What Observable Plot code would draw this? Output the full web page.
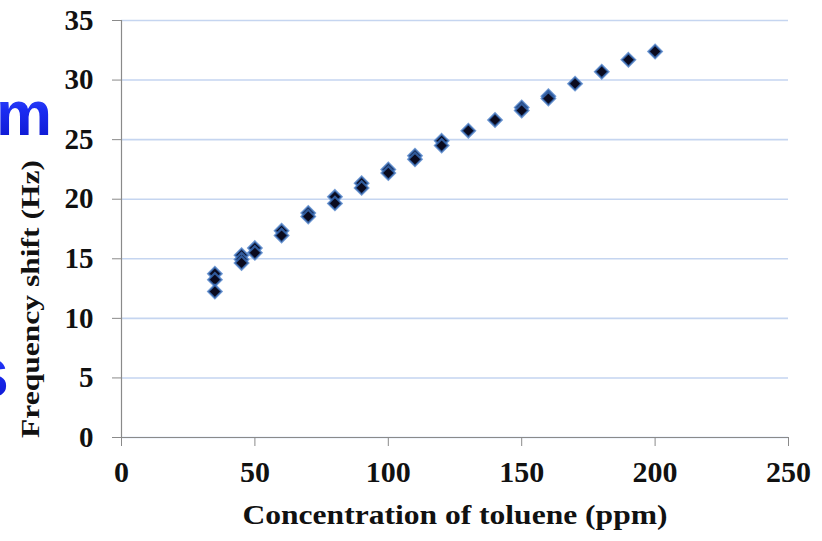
<!DOCTYPE html>
<html>
<head>
<meta charset="utf-8">
<script src="https://cdn.jsdelivr.net/npm/d3@7"></script>
<script src="https://cdn.jsdelivr.net/npm/@observablehq/plot@0.6"></script>
<style>
  html, body { margin: 0; padding: 0; background: #fff; }
  #wrap { position: relative; width: 822px; height: 541px; overflow: hidden; }
  #deco { position: absolute; left: 0; top: 0; }
</style>
</head>
<body>
<div id="wrap">
  <svg id="deco" width="822" height="541">
    <defs>
      <linearGradient id="blueGrad" x1="0" y1="0" x2="0" y2="1">
        <stop offset="0" stop-color="#4a66ff"/>
        <stop offset="0.45" stop-color="#1b2cf2"/>
        <stop offset="1" stop-color="#0b14c8"/>
      </linearGradient>
    </defs>
    <text x="-4" y="135" font-family="'Liberation Sans', Arial, sans-serif" font-weight="bold" font-size="63" fill="url(#blueGrad)">m</text>
    <text x="-31" y="397" font-family="'Liberation Sans', Arial, sans-serif" font-weight="bold" font-size="72" fill="url(#blueGrad)">s</text>
  </svg>
</div>
<script>
const concentration = [35, 35, 35, 45, 45, 45, 50, 50, 60, 60, 70, 70, 80, 80, 90, 90, 100, 100, 110, 110, 120, 120, 130, 140, 150, 150, 160, 160, 170, 180, 190, 200];
const frequencyShift = [13.75, 13.25, 12.25, 15.3, 14.95, 14.65, 15.9, 15.5, 17.35, 16.95, 18.85, 18.55, 20.2, 19.65, 21.35, 20.95, 22.5, 22.2, 23.65, 23.35, 24.9, 24.5, 25.75, 26.65, 27.7, 27.45, 28.65, 28.45, 29.7, 30.7, 31.7, 32.4];
const xTicks = [0, 50, 100, 150, 200, 250];
const yTicks = [0, 5, 10, 15, 20, 25, 30, 35];
const xLabel = "Concentration of toluene (ppm)";
const yLabel = "Frequency shift (Hz)";

const data = concentration.map((c, i) => ({x: c, y: frequencyShift[i]}));
const font = "'Liberation Serif', 'Times New Roman', serif";

const chart = Plot.plot({
  width: 822,
  height: 541,
  marginLeft: 121,
  marginRight: 34,
  marginTop: 20,
  marginBottom: 104,
  style: {fontFamily: font, background: "transparent", overflow: "visible"},
  x: {domain: [0, 250]},
  y: {domain: [0, 35]},
  marks: [
    Plot.gridY(yTicks, {stroke: "#c5d5f0", strokeOpacity: 1, strokeWidth: 1.6}),
    Plot.ruleX([0], {stroke: "#8a8a8a", strokeWidth: 1.2}),
    Plot.ruleY([0], {stroke: "#8a8a8a", strokeWidth: 1.2}),
    Plot.axisY(yTicks, {tickSize: 9, tickPadding: 19, fontSize: 29, fontWeight: "bold", fill: "#111", stroke: "#8a8a8a", label: null}),
    Plot.axisX(xTicks, {tickSize: 9, tickPadding: 14, fontSize: 30, fontWeight: "bold", fill: "#111", stroke: "#8a8a8a", label: null}),
    Plot.text([xLabel], {frameAnchor: "bottom", textAnchor: "middle", lineAnchor: "middle", dy: 78, fontSize: 28, fontWeight: "bold", fill: "#111"}),
    Plot.text([yLabel], {frameAnchor: "left", textAnchor: "middle", lineAnchor: "middle", rotate: -90, dx: -91, dy: 70, fontSize: 26, fontWeight: "bold", fill: "#111"}),
    Plot.dot(data, {x: "x", y: "y", symbol: "diamond2", r: 6, fill: "#0a0a1e", stroke: "#3d76c4", strokeWidth: 2.2, strokeOpacity: 0.75})
  ]
});
// stretch the axis titles to the width they take in the reference
d3.select(chart).selectAll("text").each(function() {
  if (this.textContent === xLabel) { this.setAttribute("textLength", 425); this.setAttribute("lengthAdjust", "spacingAndGlyphs"); }
  if (this.textContent === yLabel) { this.setAttribute("textLength", 278); this.setAttribute("lengthAdjust", "spacingAndGlyphs"); }
});
chart.style.position = "absolute";
chart.style.left = "0";
chart.style.top = "0";
document.getElementById("wrap").appendChild(chart);
</script>
</body>
</html>
